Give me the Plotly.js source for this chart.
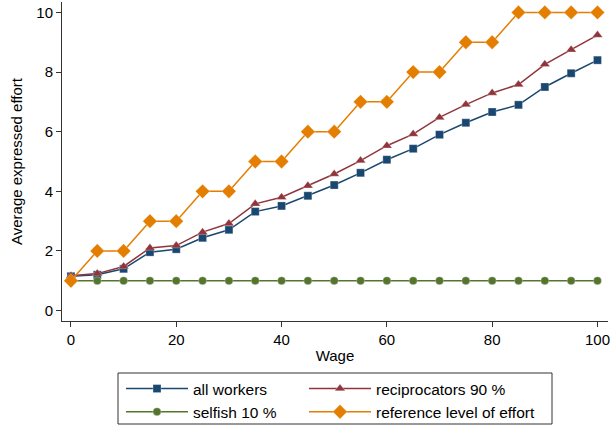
<!DOCTYPE html>
<html>
<head>
<meta charset="utf-8">
<script src="https://cdn.plot.ly/plotly-3.0.1.min.js"></script>
<style>html,body{margin:0;padding:0;background:#fff;}#chart{width:613px;height:425px;}</style>
</head>
<body>
<div id="chart"></div>
<script>
var wage = [0,5,10,15,20,25,30,35,40,45,50,55,60,65,70,75,80,85,90,95,100];
var allWorkers = [1.15,1.2,1.4,1.96,2.06,2.44,2.71,3.32,3.51,3.85,4.21,4.62,5.06,5.43,5.9,6.3,6.66,6.9,7.5,7.96,8.4];
var reciprocators = [1.17,1.24,1.48,2.1,2.18,2.63,2.92,3.58,3.8,4.19,4.58,5.03,5.53,5.92,6.48,6.91,7.3,7.58,8.26,8.75,9.24];
var selfish = [1,1,1,1,1,1,1,1,1,1,1,1,1,1,1,1,1,1,1,1,1];
var reference = [1,2,2,3,3,4,4,5,5,6,6,7,7,8,8,9,9,10,10,10,10];
var names = ["all workers","reciprocators 90 %","selfish 10 %","reference level of effort"];
var xTicks = [0,20,40,60,80,100];
var yTicks = [0,2,4,6,8,10];

function tr(y, name, color, symbol, size, leg){
  return {x: wage, y: y, name: name, type: 'scatter', mode: 'lines+markers', legend: leg,
    line: {color: color, width: 1.5},
    marker: {color: color, symbol: symbol, size: size, line: {color: 'rgba(255,255,255,0.35)', width: 0.8}}};
}
var data = [
  tr(allWorkers, names[0], '#1a476f', 'square', 8, 'legend'),
  tr(reciprocators, names[1], '#90353b', 'triangle-up', 9, 'legend2'),
  tr(selfish, names[2], '#55752f', 'circle', 8, 'legend'),
  tr(reference, names[3], '#e37e00', 'diamond', 11, 'legend2')
];
// plot area: x 62..608 px, y 2..321 px
var legCommon = {orientation: 'v', yref: 'container', yanchor: 'top', y: 1 - 372 / 425,
  xanchor: 'left', bgcolor: 'rgba(0,0,0,0)', borderwidth: 0, itemwidth: 62, tracegroupgap: 0,
  font: {size: 15.5}};
var layout = {
  width: 613, height: 425,
  margin: {l: 62, r: 5, t: 2, b: 104},
  paper_bgcolor: '#fff', plot_bgcolor: '#fff',
  font: {family: 'Liberation Sans, Arial, sans-serif', size: 15, color: '#000'},
  showlegend: true,
  legend: Object.assign({}, legCommon, {x: (121 - 62) / 546}),
  legend2: Object.assign({}, legCommon, {x: (304 - 62) / 546}),
  shapes: [{type: 'rect', xref: 'paper', yref: 'paper',
    x0: (118 - 62) / 546, x1: (552 - 62) / 546, y0: (321 - 373) / 319, y1: (321 - 424) / 319,
    line: {color: '#333', width: 1}, fillcolor: 'rgba(0,0,0,0)'}],
  xaxis: {range: [-1.7, 102], tickvals: xTicks, ticktext: xTicks.map(String),
    showgrid: false, zeroline: false, showline: true, linecolor: '#333', linewidth: 1,
    ticks: 'outside', ticklen: 5, tickcolor: '#333',
    title: {text: 'Wage', font: {size: 15}, standoff: 3}},
  yaxis: {range: [-0.35, 10.35], tickvals: yTicks, ticktext: yTicks.map(String),
    showgrid: false, zeroline: false, showline: true, linecolor: '#333', linewidth: 1,
    ticks: 'outside', ticklen: 5, tickcolor: '#333',
    title: {text: 'Average expressed effort', font: {size: 15}, standoff: 10}}
};
Plotly.newPlot('chart', data, layout, {displayModeBar: false, staticPlot: true});
</script>
</body>
</html>
